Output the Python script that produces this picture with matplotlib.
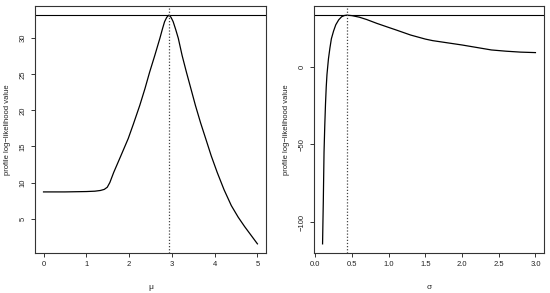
import numpy as np
import matplotlib
matplotlib.use("Agg")
import matplotlib.pyplot as plt

plt.rcParams['font.family'] = ['Liberation Sans', 'DejaVu Sans']

# profile log-likelihood in mu
mu = [0.0, 0.5, 1.0, 1.2, 1.33, 1.42, 1.49, 1.55, 1.64, 1.8, 1.98, 2.1,
      2.25, 2.37, 2.48, 2.6, 2.72, 2.78, 2.83, 2.88, 2.93, 2.98, 3.03, 3.09,
      3.15, 3.24, 3.34, 3.45, 3.55, 3.67, 3.79, 3.92, 4.06, 4.22, 4.39, 4.55,
      4.7, 4.85, 5.0]
ll_mu = [8.7, 8.7, 8.75, 8.8, 8.9, 9.05, 9.35, 10.0, 11.4, 13.6, 16.1, 18.1,
         20.7, 23.0, 25.3, 27.6, 30.0, 31.3, 32.3, 32.9, 33.2, 32.9, 32.3,
         31.2, 30.0, 27.6, 25.3, 22.9, 20.7, 18.3, 16.1, 13.7, 11.4, 9.0, 6.8,
         5.2, 3.9, 2.7, 1.5]
mu_hat = 2.93

# profile log-likelihood in sigma
sigma = [0.10, 0.105, 0.11, 0.12, 0.13, 0.14, 0.15, 0.16, 0.18, 0.20, 0.22,
         0.25, 0.28, 0.32, 0.36, 0.40, 0.43, 0.5, 0.6, 0.7, 0.84, 1.0, 1.1,
         1.3, 1.4, 1.5, 1.6, 1.8, 2.0, 2.2, 2.4, 2.6, 2.8, 3.0]
ll_sigma = [-114, -100, -87, -55, -38, -24, -13, -5, 5, 12, 18, 23, 27, 30.2,
            32.2, 33.0, 33.2, 32.9, 31.9, 30.4, 27.9, 25.3, 23.7, 20.4, 19.1,
            17.8, 16.8, 15.4, 14.0, 12.4, 10.8, 10.0, 9.4, 9.1]
sigma_hat = 0.43

fig = plt.figure(figsize=(5.5, 2.93), dpi=100)
ax1 = fig.add_axes([0.0636, 0.1365, 0.42, 0.843])
ax2 = fig.add_axes([0.571, 0.1365, 0.418, 0.843])

def rpad(lo, hi):
    d = (hi - lo) * 0.04
    return lo - d, hi + d

def style(ax, xlab):
    for s in ax.spines.values():
        s.set_linewidth(0.8)
        s.set_color('#333333')
    ax.tick_params(direction='out', length=3, width=0.7, color='#333333',
                   labelsize=5.5, pad=3, labelcolor='#222222')
    for t in ax.get_yticklabels():
        t.set_rotation(90)
        t.set_verticalalignment('center')
    ax.set_xlabel(xlab, fontsize=6, labelpad=11, color='#222222')
    ax.set_ylabel('profile log\u2212likelihood value', fontsize=5.5,
                  labelpad=6, color='#222222')

ax1.plot(mu, ll_mu, color='black', lw=0.9)
ax1.axhline(max(ll_mu), color='black', lw=0.8)
ax1.axvline(mu_hat, color='#444444', lw=0.9, ls=(0, (1, 1.5)))
ax1.set_xlim(*rpad(min(mu), max(mu)))
ax1.set_ylim(*rpad(min(ll_mu), max(ll_mu)))
ax1.set_xticks([0, 1, 2, 3, 4, 5])
ax1.set_yticks([5, 10, 15, 20, 25, 30])
style(ax1, '\u03bc')

ax2.plot(sigma, ll_sigma, color='black', lw=0.9)
ax2.axhline(max(ll_sigma), color='black', lw=0.8)
ax2.axvline(sigma_hat, color='#444444', lw=0.9, ls=(0, (1, 1.5)))
ax2.set_xlim(*rpad(min(sigma), max(sigma)))
ax2.set_ylim(*rpad(min(ll_sigma), max(ll_sigma)))
ax2.set_xticks([0.0, 0.5, 1.0, 1.5, 2.0, 2.5, 3.0])
ax2.set_xticklabels(['0.0', '0.5', '1.0', '1.5', '2.0', '2.5', '3.0'])
ax2.set_yticks([-100, -50, 0])
ax2.set_yticklabels(['\u2212100', '\u221250', '0'])
style(ax2, '\u03c3')

fig.savefig('out.png', dpi=100)
